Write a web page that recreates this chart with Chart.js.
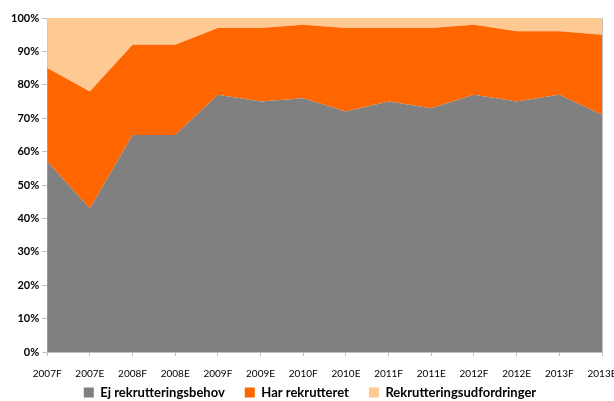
<!DOCTYPE html>
<html>
<head>
<meta charset="utf-8">
<script src="https://cdn.jsdelivr.net/npm/chart.js@4/dist/chart.umd.min.js"></script>
<style>
html,body{margin:0;padding:0;background:#fff;}
#wrap{width:614px;height:401px;}
</style>
</head>
<body>
<div id="wrap"><canvas id="c" width="614" height="401"></canvas></div>
<script>
const categories = ["2007F","2007E","2008F","2008E","2009F","2009E","2010F","2010E","2011F","2011E","2012F","2012E","2013F","2013E"];
const ejBehov = [57, 43, 65, 65, 77, 75, 76, 72, 75, 73, 77, 75, 77, 71];
const harRekrutteret = [28, 35, 27, 27, 20, 22, 22, 25, 22, 24, 21, 21, 19, 24];
const udfordringer = [15, 22, 8, 8, 3, 3, 2, 3, 3, 3, 2, 4, 4, 5];
const yTicks = [0,10,20,30,40,50,60,70,80,90,100];

const FONT = "Lato, 'Liberation Sans', sans-serif";
const mk = (label, data, color, fill) => ({
  label, data, backgroundColor: color, borderColor: color, borderWidth: 0,
  fill, pointRadius: 0, pointHoverRadius: 0, tension: 0
});

// compact the legend vertically while keeping wide horizontal spacing
const legendTweak = {
  id: 'legendTweak',
  beforeLayout(chart) {
    const lg = chart.legend;
    if (!lg || lg._tw) return;
    lg._tw = true;
    const fit = lg.fit.bind(lg);
    lg.fit = function () { fit(); this.height = 9; };
    const draw = lg.draw.bind(lg);
    lg.draw = function () {
      const t = this.top, b = this.bottom;
      this.top = this.chart.height - 35;
      this.bottom = this.chart.height;
      draw();
      this.top = t; this.bottom = b;
    };
  }
};

new Chart(document.getElementById('c'), {
  type: 'line',
  data: {
    labels: categories,
    datasets: [
      mk('Ej rekrutteringsbehov', ejBehov, '#808080', 'origin'),
      mk('Har rekrutteret', harRekrutteret, '#FF6600', '-1'),
      mk('Rekrutteringsudfordringer', udfordringer, '#FFC993', '-1')
    ]
  },
  plugins: [legendTweak],
  options: {
    responsive: false,
    animation: false,
    layout: { padding: { left: 8, right: 2, top: 18, bottom: 0 } },
    plugins: {
      tooltip: { enabled: false },
      legend: {
        position: 'bottom',
        labels: {
          boxWidth: 10, boxHeight: 10, padding: 20, color: '#000',
          font: { family: FONT, size: 13, weight: 'bold' }
        }
      }
    },
    scales: {
      x: {
        offset: false,
        afterFit: s => { s.paddingRight = 12; },
        grid: { drawOnChartArea: false, drawTicks: true, tickLength: 4, color: '#bfbfbf' },
        border: { color: '#bfbfbf' },
        ticks: { color: '#000', maxRotation: 0, autoSkip: false, font: { family: FONT, size: 10 }, padding: 12 }
      },
      y: {
        stacked: true, min: 0, max: 100,
        afterBuildTicks: s => { s.ticks = yTicks.map(v => ({ value: v })); },
        grid: { drawOnChartArea: false, drawTicks: true, tickLength: 5, color: '#bfbfbf' },
        border: { color: '#bfbfbf' },
        ticks: { color: '#000', font: { family: FONT, size: 11, weight: 'bold' }, padding: 3, callback: v => v + '%' }
      },
      y2: {
        position: 'right', min: 0, max: 100,
        afterFit: s => { s.width = 0; },
        grid: { drawOnChartArea: false, drawTicks: false },
        border: { color: '#bfbfbf' },
        ticks: { display: false }
      }
    }
  }
});
</script>
</body>
</html>
